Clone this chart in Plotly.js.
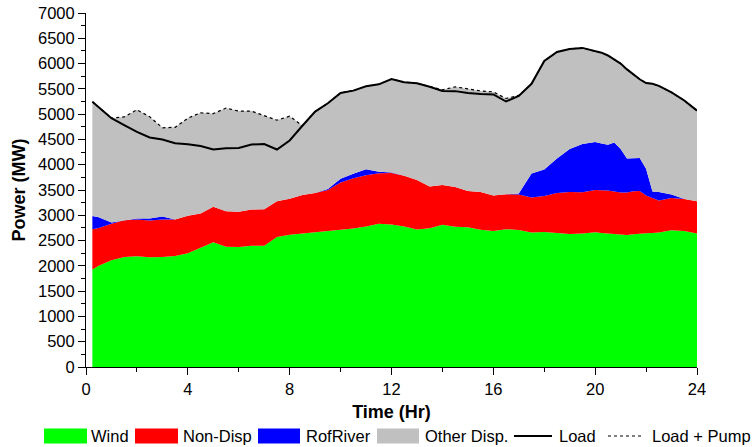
<!DOCTYPE html>
<html>
<head>
<meta charset="utf-8">
<script src="https://cdn.plot.ly/plotly-3.0.1.min.js"></script>
<style>
  html, body { margin: 0; padding: 0; background: #ffffff; }
  #chart { width: 754px; height: 447px; }
</style>
</head>
<body>
<div id="chart"></div>
<script>
// ---- data ----
var hours = [0.25,0.5,1,1.5,2,2.5,3,3.5,4,4.5,5,5.5,6,6.5,7,7.5,8,8.5,9,9.5,10,10.5,11,11.5,12,12.5,13,13.5,14,14.5,15,15.5,16,16.5,17,17.5,18,18.5,19,19.5,20,20.25,20.5,20.75,21,21.25,21.5,21.75,22,22.25,22.5,23,23.5,24];

var wind = [1930,2000,2110,2175,2190,2170,2175,2195,2250,2360,2465,2380,2375,2400,2400,2570,2615,2640,2665,2685,2705,2740,2780,2835,2820,2780,2720,2745,2815,2775,2765,2715,2690,2725,2710,2660,2670,2645,2630,2640,2665,2650,2640,2625,2615,2612,2625,2640,2645,2650,2660,2705,2690,2640];

var nonDisp = [795,750,725,725,725,725,740,720,740,675,705,700,695,715,717,710,710,760,775,815,945,990,1010,995,1015,1000,980,825,785,785,715,745,700,690,700,690,710,795,830,815,835,850,850,845,835,838,850,840,745,690,630,635,630,640];

var rofRiver = [260,210,20,0,20,40,60,0,0,0,0,0,0,0,0,0,0,0,0,20,70,90,120,30,10,0,0,0,0,0,0,0,0,0,20,475,525,685,850,957,950,920,905,970,860,675,655,655,530,130,170,70,0,0];

var otherDisp = [2260,2170,2065,2045,2150,2015,1755,1825,1930,1992,1840,2040,1990,1945,1853,1600,1635,1370,1610,1695,1700,1645,1640,1730,1849,1850,1910,1970,1880,1980,2020,2000,2050,1895,1940,1775,2145,2105,1980,1898,1790,1795,1765,1640,1690,1760,1660,1555,1695,2130,2100,2020,1950,1790];

var load = [5245,5130,4920,4785,4650,4540,4500,4425,4405,4370,4300,4325,4330,4400,4410,4300,4480,4770,5050,5215,5420,5465,5550,5590,5694,5630,5610,5540,5460,5455,5420,5400,5390,5250,5360,5600,6050,6230,6290,6310,6240,6215,6160,6080,6000,5885,5790,5690,5615,5600,5560,5430,5270,5070];

var loadPump = [5245,5130,4920,4945,5085,4950,4730,4740,4920,5027,5010,5120,5060,5060,4970,4880,4960,4770,5050,5215,5420,5465,5550,5590,5694,5630,5610,5540,5480,5540,5500,5460,5440,5310,5370,5600,6050,6230,6290,6310,6240,6215,6160,6080,6000,5885,5790,5690,5615,5600,5560,5430,5270,5070];

var seriesNames = ['Wind', 'Non-Disp', 'RofRiver', 'Other Disp.', 'Load', 'Load + Pump'];
var xTickVals = [0, 4, 8, 12, 16, 20, 24];
var yTickVals = [0,500,1000,1500,2000,2500,3000,3500,4000,4500,5000,5500,6000,6500,7000];

// ---- styles ----
var colors = { wind: '#00ff00', nonDisp: '#ff0000', rof: '#0000ff', other: '#c0c0c0', line: '#000000' };
var FONT = 'Arial, "Liberation Sans", sans-serif';

function area(y, name, color) {
  return {
    x: hours, y: y, name: name, type: 'scatter', mode: 'lines',
    stackgroup: 'gen', line: { width: 0, color: color }, fillcolor: color,
    hoverinfo: 'x+y+name'
  };
}

var traces = [
  area(wind, seriesNames[0], colors.wind),
  area(nonDisp, seriesNames[1], colors.nonDisp),
  area(rofRiver, seriesNames[2], colors.rof),
  area(otherDisp, seriesNames[3], colors.other),
  { x: hours, y: loadPump, name: seriesNames[5], type: 'scatter', mode: 'lines',
    line: { color: colors.line, width: 1.2, dash: 'dot' } },
  { x: hours, y: load, name: seriesNames[4], type: 'scatter', mode: 'lines',
    line: { color: colors.line, width: 2 } }
];

// ---- custom single-row legend ----
var W = 754, H = 447, ML = 86, MR = 57, MT = 13, MB = 80;
var PW = W - ML - MR, PH = H - MT - MB;
function px2x(p) { return (p - ML) / PW; }
function py2y(p) { return (H - MB - p) / PH; }

var legY = 436, LEGFONT = 16.5;
var swatches = [
  { x0: 44, x1: 87, color: colors.wind, text: seriesNames[0], tx: 89 },
  { x0: 135, x1: 178, color: colors.nonDisp, text: seriesNames[1], tx: 181 },
  { x0: 258, x1: 300, color: colors.rof, text: seriesNames[2], tx: 304 },
  { x0: 377, x1: 419, color: colors.other, text: seriesNames[3], tx: 423 }
];
var shapes = [], annotations = [];
swatches.forEach(function (s) {
  shapes.push({ type: 'rect', xref: 'paper', yref: 'paper',
    x0: px2x(s.x0), x1: px2x(s.x1), y0: py2y(legY + 7.5), y1: py2y(legY - 7.5),
    fillcolor: s.color, line: { width: 0 } });
  annotations.push({ xref: 'paper', yref: 'paper', x: px2x(s.tx), y: py2y(legY),
    xanchor: 'left', yanchor: 'middle', text: s.text, showarrow: false,
    font: { family: FONT, size: LEGFONT, color: '#000' } });
});
shapes.push({ type: 'line', xref: 'paper', yref: 'paper', x0: px2x(514), x1: px2x(552),
  y0: py2y(legY), y1: py2y(legY), line: { color: '#000', width: 2 } });
annotations.push({ xref: 'paper', yref: 'paper', x: px2x(557), y: py2y(legY), xanchor: 'left',
  yanchor: 'middle', text: seriesNames[4], showarrow: false, font: { family: FONT, size: LEGFONT, color: '#000' } });
shapes.push({ type: 'line', xref: 'paper', yref: 'paper', x0: px2x(608), x1: px2x(644),
  y0: py2y(legY), y1: py2y(legY), line: { color: '#000', width: 1, dash: 'dot' } });
annotations.push({ xref: 'paper', yref: 'paper', x: px2x(650), y: py2y(legY), xanchor: 'left',
  yanchor: 'middle', text: seriesNames[5], showarrow: false, font: { family: FONT, size: LEGFONT, color: '#000' } });

var layout = {
  width: W, height: H,
  margin: { l: ML, r: MR, t: MT, b: MB, pad: 0 },
  paper_bgcolor: '#ffffff', plot_bgcolor: '#ffffff',
  showlegend: false,
  font: { family: FONT, size: 16.5, color: '#000' },
  xaxis: {
    range: [0, 24], tickvals: xTickVals, ticktext: xTickVals.map(String),
    showgrid: false, zeroline: false, showline: true, linecolor: '#000', linewidth: 1,
    ticks: 'outside', ticklen: 7, tickwidth: 1, tickcolor: '#000',
    minor: { dtick: 2, tick0: 0, ticks: 'outside', ticklen: 4, tickcolor: '#000', showgrid: false },
    tickfont: { family: FONT, size: 16.5, color: '#000' },
    title: { text: '<b>Time (Hr)</b>', font: { family: FONT, size: 18, color: '#000' }, standoff: 8 },
    automargin: false, fixedrange: true
  },
  yaxis: {
    range: [0, 7000], tickvals: yTickVals, ticktext: yTickVals.map(String),
    showgrid: false, zeroline: false, showline: true, linecolor: '#000', linewidth: 1,
    ticks: 'outside', ticklen: 7, tickwidth: 1, tickcolor: '#000',
    minor: { dtick: 250, tick0: 0, ticks: 'outside', ticklen: 4, tickcolor: '#000', showgrid: false },
    tickfont: { family: FONT, size: 16.5, color: '#000' },
    title: { text: '<b>Power (MW)</b>', font: { family: FONT, size: 18, color: '#000' }, standoff: 7 },
    automargin: false, fixedrange: true
  },
  shapes: shapes,
  annotations: annotations
};

Plotly.newPlot('chart', traces, layout, { displayModeBar: false, staticPlot: true });
</script>
</body>
</html>
